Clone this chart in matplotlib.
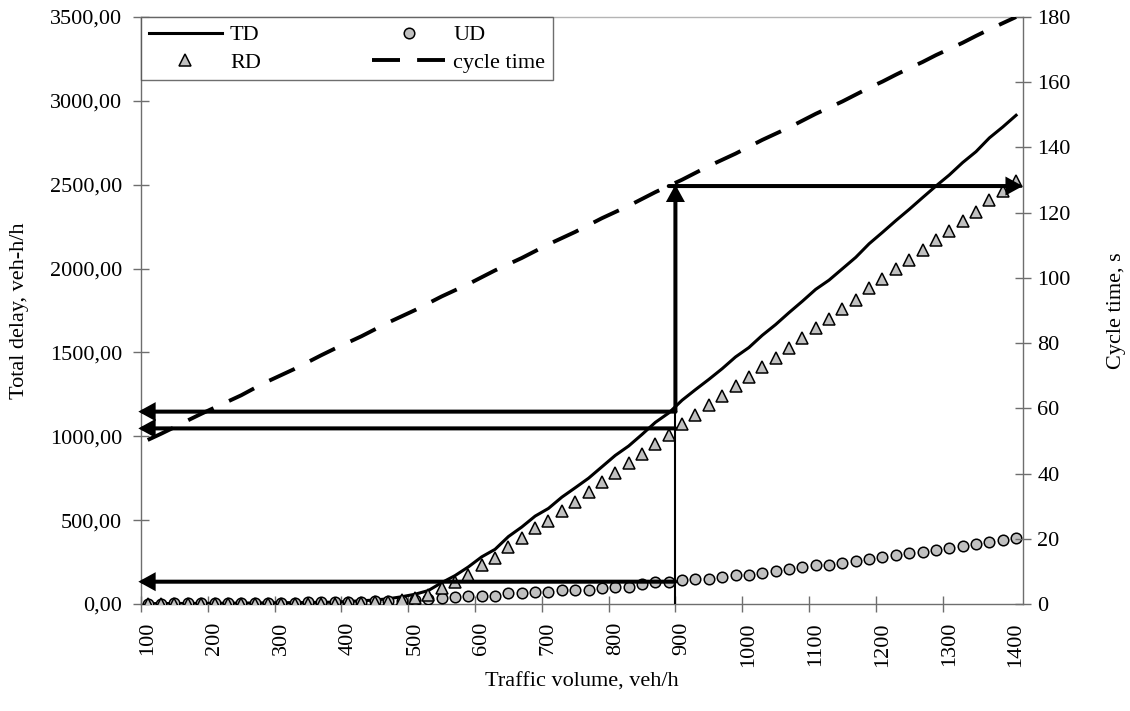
import matplotlib
matplotlib.use("Agg")
import matplotlib.pyplot as plt
from matplotlib.ticker import FuncFormatter, FixedLocator

plt.rcParams['font.family'] = ['Liberation Serif', 'DejaVu Serif']
plt.rcParams['font.size'] = 16

# ---------------- data ----------------
volume = [100, 120, 140, 160, 180, 200, 220, 240, 260, 280,
          300, 320, 340, 360, 380, 400, 420, 440, 460, 480,
          500, 520, 540, 560, 580, 600, 620, 640, 660, 680,
          700, 720, 740, 760, 780, 800, 820, 840, 860, 880,
          900, 920, 940, 960, 980, 1000, 1020, 1040, 1060, 1080,
          1100, 1120, 1140, 1160, 1180, 1200, 1220, 1240, 1260, 1280,
          1300, 1320, 1340, 1360, 1380, 1400]

td = [2, 2.5, 3, 3.5, 4, 4.5, 5, 5.5, 6, 7,
      7.5, 8, 9, 10, 11, 15, 19, 24, 31, 43,
      58, 80, 127, 169, 221, 281, 326, 402, 459, 524,
      570, 637, 693, 750, 818, 886, 942, 1011, 1083, 1139,
      1215, 1278, 1339, 1403, 1473, 1529, 1602, 1666, 1737, 1805,
      1876, 1931, 1999, 2067, 2148, 2216, 2286, 2353, 2423, 2492,
      2558, 2632, 2697, 2779, 2844, 2914]

ud = [2, 2.5, 3, 3.5, 4, 4.5, 5, 5.5, 6, 7,
      7.5, 8, 9, 10, 11, 12, 13, 15, 17, 19,
      24, 28, 34, 40, 48, 49, 50, 64, 64, 73,
      73, 83, 83, 84, 93, 103, 103, 117, 129, 131,
      141, 151, 152, 163, 173, 174, 187, 197, 209, 221,
      232, 233, 242, 254, 266, 278, 290, 302, 312, 322,
      334, 346, 358, 370, 380, 392]

rd = [0, 0, 0, 0, 0, 0, 0, 0, 0, 0,
      0, 0, 0, 0, 0, 3, 6, 9, 14, 24,
      34, 52, 93, 129, 173, 232, 276, 338, 395, 451,
      497, 554, 610, 666, 725, 783, 839, 894, 954, 1008,
      1074, 1127, 1187, 1240, 1300, 1355, 1415, 1469, 1528, 1584,
      1644, 1698, 1757, 1813, 1882, 1938, 1996, 2051, 2111, 2170,
      2224, 2286, 2339, 2409, 2464, 2522]

cycle = [50.3, 52.2, 54.2, 56.3, 58.3, 60.2, 62.1, 64.0, 66.2, 68.3,
         70.2, 72.1, 74.2, 76.3, 78.3, 80.2, 82.1, 84.2, 86.3, 88.2,
         90.1, 92.2, 94.3, 96.2, 98.1, 100.2, 102.3, 104.2, 106.1, 108.2,
         110.3, 112.2, 114.1, 116.2, 118.3, 120.2, 122.1, 124.2, 126.3, 128.2,
         130.1, 132.2, 134.3, 136.2, 138.1, 140.2, 142.3, 144.2, 146.1, 148.2,
         150.3, 152.2, 154.1, 156.2, 158.3, 160.2, 162.3, 164.3, 166.2, 168.3,
         170.2, 172.1, 174.2, 176.2, 178.1, 180.0]

x_labels = [100, 200, 300, 400, 500, 600, 700, 800, 900, 1000, 1100, 1200, 1300, 1400]
left_ticks = [0, 500, 1000, 1500, 2000, 2500, 3000, 3500]
right_ticks = [0, 20, 40, 60, 80, 100, 120, 140, 160, 180]

# reading arrows (x, delay) annotations
arrow_x = 890
arrow_levels_left = [1147, 1047, 133]
arrow_top = 2492

# ---------------- figure ----------------
fig = plt.figure(figsize=(11.3, 7.11), dpi=100)
ax = fig.add_axes([0.1248, 0.1505, 0.7803, 0.8256])
ax2 = ax.twinx()

spine_c = '#6e6e6e'

l_td, = ax.plot(volume, td, color='black', lw=2.2, zorder=3, label='TD')
l_ud, = ax.plot(volume, ud, ls='none', marker='o', ms=7.6, mfc='#c0c0c0',
                mec='black', mew=1.1, zorder=4, label='UD')
l_rd, = ax.plot(volume, rd, ls='none', marker='^', ms=8.4, mfc='#c0c0c0',
                mec='black', mew=1.1, zorder=5, label='RD')
l_cy, = ax2.plot(volume, cycle, color='black', lw=2.8, dashes=(7.2, 4.4),
                 dash_capstyle='butt', zorder=3, label='cycle time')

ax.set_xlim(90, 1410)
ax.set_ylim(0, 3500)
ax2.set_ylim(0, 180)

# x axis: labels at category centres, tick marks between categories
ax.xaxis.set_major_locator(FixedLocator(x_labels))
ax.xaxis.set_minor_locator(FixedLocator([90 + 100 * k for k in range(13)]))
ax.tick_params(axis='x', which='major', length=0, pad=13, labelsize=16,
               labelrotation=90)
ax.tick_params(axis='x', which='minor', direction='inout', length=11,
               width=1, color=spine_c)

ax.yaxis.set_major_locator(FixedLocator(left_ticks))
ax.yaxis.set_major_formatter(FuncFormatter(lambda v, p: f"{v:.2f}".replace('.', ',')))
ax.tick_params(axis='y', direction='inout', length=11, width=1, color=spine_c,
               pad=8, labelsize=16)

ax2.yaxis.set_major_locator(FixedLocator(right_ticks))
ax2.tick_params(axis='y', direction='inout', length=11, width=1, color=spine_c,
                pad=5, labelsize=16)

for s in ['left', 'bottom']:
    ax.spines[s].set_color(spine_c)
    ax.spines[s].set_linewidth(1.0)
ax.spines['top'].set_color('#b4b4b4')
ax.spines['top'].set_linewidth(1.0)
ax.spines['right'].set_visible(False)
for s in ['left', 'bottom', 'top']:
    ax2.spines[s].set_visible(False)
ax2.spines['right'].set_color(spine_c)
ax2.spines['right'].set_linewidth(1.0)

ax.set_xlabel('Traffic volume, veh/h', fontsize=16)
ax.xaxis.set_label_coords(0.5, -0.117)
ax.set_ylabel('Total delay, veh-h/h', fontsize=16)
ax.yaxis.set_label_coords(-0.127, 0.5)
ax2.set_ylabel('Cycle time, s', fontsize=16)
ax2.yaxis.set_label_coords(1.096, 0.5)

# ---------------- arrows ----------------
def arrow(x0, y0, x1, y1):
    ax2.annotate('', xy=(x1, y1), xytext=(x0, y0),
                 xycoords=ax.transData, textcoords=ax.transData,
                 annotation_clip=False,
                 arrowprops=dict(arrowstyle='-|>,head_length=0.4,head_width=0.22',
                                 lw=2.9, color='black', shrinkA=0, shrinkB=0,
                                 mutation_scale=20, joinstyle='miter'),
                 zorder=10)

for yl in arrow_levels_left:
    arrow(arrow_x, yl, 86, yl)
ax2.plot([arrow_x, arrow_x], [0, arrow_levels_left[0]], color='black', lw=1.5,
         transform=ax.transData, zorder=9, solid_capstyle='butt')
arrow(arrow_x, arrow_levels_left[0], arrow_x, arrow_top + 8)
arrow(arrow_x - 10, arrow_top, 1410, arrow_top)
ax2.set_ylim(0, 180)

# ---------------- legend ----------------
leg = ax2.legend([l_td, l_rd, l_ud, l_cy], ['TD', 'RD', 'UD', 'cycle time'],
                 ncol=2, loc='upper left', bbox_to_anchor=(0, 1),
                 borderaxespad=0, frameon=True, fancybox=False,
                 fontsize=16, handlelength=3.3, handletextpad=0.35,
                 columnspacing=5.0, borderpad=0.35, labelspacing=0.3,
                 numpoints=1)
leg.get_frame().set_edgecolor('#4a4a4a')
leg.get_frame().set_linewidth(1.0)
leg.set_zorder(20)

fig.savefig('out.png', dpi=100)
